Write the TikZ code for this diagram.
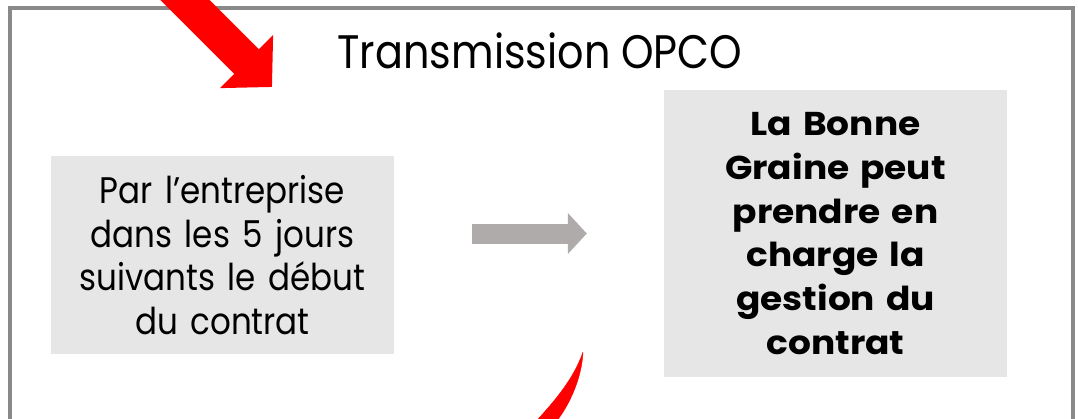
\documentclass[tikz,border=0pt]{standalone}
\usepackage{fontspec}
\setmainfont{Poppins}[FakeStretch=0.88]
\newfontfamily\grainefont{Poppins}[FakeStretch=1.09]
\usetikzlibrary{arrows.meta}
\definecolor{framegray}{HTML}{898989}
\definecolor{boxgray}{HTML}{E7E6E6}
\definecolor{arrowgray}{HTML}{AFABAB}
\begin{document}
\begin{tikzpicture}[x=1pt,y=-1pt,
  greybox/.style={fill=boxgray, inner sep=0pt, align=center, text width=340pt},
  greyarrow/.style={arrowgray, line width=20pt, -{Triangle[width=40pt,length=19pt]}},
  redarrow/.style={red, line width=35pt, -{Triangle[width=73pt,length=36pt]}}]
    \useasboundingbox (0,0) rectangle (1078,418);
    \clip (0,0) rectangle (1078,418);

% frame
    \draw[framegray, line width=4pt] (10,8) rectangle (1073,460);
    \node[font=\fontsize{47}{50}\selectfont] (title) at (540,51) {Transmission OPCO};

% boxes
    \node[greybox, minimum width=343pt, minimum height=198pt,
      font=\fontsize{37}{43.7}\selectfont] (entreprise) at (222.5,255)
      {Par l’entreprise\\ dans les 5 jours\\ suivants le début\\ du contrat};
    \node[greybox, minimum width=343pt, minimum height=287pt,
      font=\grainefont\fontsize{33}{43.7}\selectfont\bfseries] (graine) at (835.5,233.5)
      {La Bonne\\ Graine peut\\ prendre en\\ charge la\\ gestion du\\ contrat};

    \draw[greyarrow, shorten <=78pt, shorten >=77pt] (entreprise.east |- graine.west) -- (graine.west);

% red arrows
    \coordinate (r0) at (135,-50);
    \coordinate (r1) at (272,87);
    \draw[redarrow] (r0) -- (r1);
    \coordinate (c0) at (583,352);
    \draw[red, fill=red] (c0) .. controls (582,375) and (572,400) .. (559,418)
      -- (556,425) -- (534,425) -- (539,418) .. controls (560,395) and (575,375) .. (c0);
\end{tikzpicture}
\end{document}
